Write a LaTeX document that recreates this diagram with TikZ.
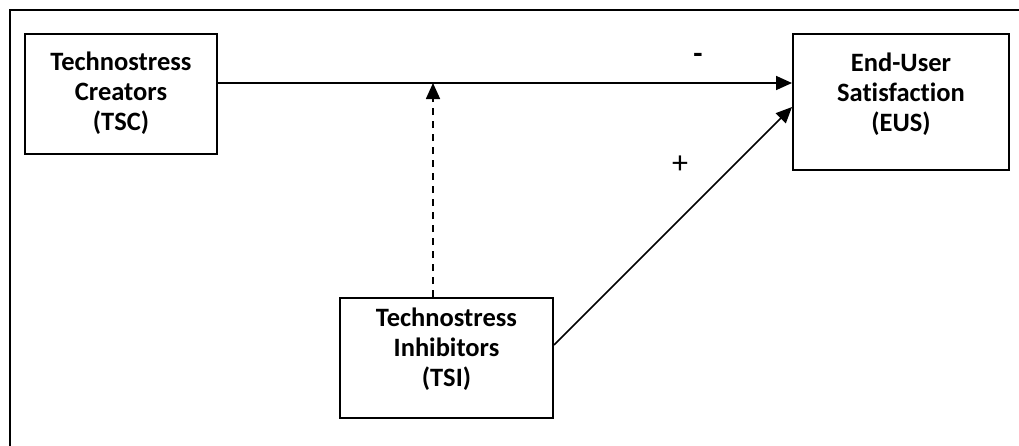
\documentclass[tikz,border=0pt]{standalone}
\usepackage{fontspec}
\setmainfont[Ligatures=NoCommon]{Carlito}
\usetikzlibrary{arrows.meta}
\begin{document}
\begin{tikzpicture}[x=1pt,y=-1pt,
  box/.style={draw=black,line width=2pt,inner sep=0pt},
  boxtext/.style={align=center,font=\fontsize{26.5}{30}\selectfont\bfseries,inner sep=0pt},
  arr/.style={line width=1.7pt,-{Triangle[length=16pt,width=14pt]}},
  sign/.style={font=\fontsize{32}{32}\selectfont}]
\useasboundingbox (0,0) rectangle (1019,445);
\draw[line width=2.2pt] (10,446) coordinate (fl) -- (10,10) coordinate (fc) -- (1020,10) coordinate (fr);
\node[box,minimum width=192pt,minimum height=120pt] (TSC) at (121,94) {};
\node[boxtext] (TSCt) at (121,93.5) {Technostress\\Creators\\(TSC)};
\node[box,minimum width=216pt,minimum height=136pt] (EUS) at (901,102) {};
\node[boxtext] (EUSt) at (901,94) {End-User\\Satisfaction\\(EUS)};
\node[box,minimum width=213pt,minimum height=120pt] (TSI) at (446.5,358) {};
\node[boxtext] (TSIt) at (446.5,349) {Technostress\\Inhibitors\\(TSI)};
\coordinate (m) at (433,83);
\draw[arr] (TSC.east |- m) -- (EUS.west |- m);
\draw[arr,dashed,dash pattern=on 7pt off 6pt] (TSI.north -| m) -- (m);
\draw[arr] ([yshift=13pt]TSI.east) -- ([yshift=-5pt]EUS.west);
\node[sign,font=\fontsize{30}{30}\selectfont\bfseries] (minus) at (698,58) {-};
\node[sign] (plus) at (680,165) {+};
\end{tikzpicture}
\end{document}
